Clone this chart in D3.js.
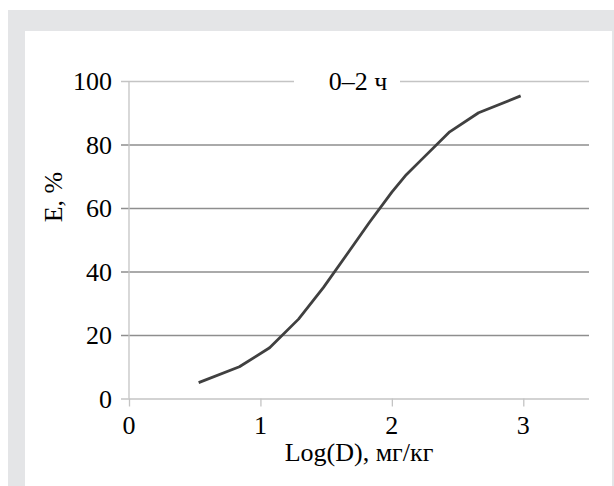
<!DOCTYPE html>
<html><head><meta charset="utf-8">
<script src="https://cdn.jsdelivr.net/npm/d3@7"></script>
<style>html,body{margin:0;padding:0;background:#fff;}svg{display:block;}</style>
</head><body>
<script>
const logDose = [0.53, 0.84, 1.07, 1.29, 1.48, 1.66, 1.83, 2.0, 2.11, 2.22, 2.44, 2.66, 2.98];
const effect  = [5, 10, 16, 25, 35, 45.5, 55.5, 65, 70.5, 75, 84, 90, 95.3];
const xTicks = [0, 1, 2, 3];
const yTicks = [0, 20, 40, 60, 80, 100];
const title = "0–2 ч";
const xTitle = "Log(D), мг/кг";
const yTitle = "E, %";

const W = 614, H = 486;
const svg = d3.select("body").append("svg").attr("width", W).attr("height", H);
svg.append("rect").attr("x", 8).attr("y", 10).attr("width", W - 8).attr("height", H - 10).attr("fill", "#e4e5e7");
svg.append("rect").attr("x", 25).attr("y", 31).attr("width", 587).attr("height", H - 31).attr("fill", "#fff");

const x = d3.scaleLinear().domain([0, 3.5]).range([129, 589]);
const y = d3.scaleLinear().domain([0, 100]).range([398.5, 81]);
const font = "'Liberation Serif','Times New Roman',serif";
const fs = 26;

// gridlines with left ticks
const yAxis = d3.axisLeft(y).tickValues(yTicks).tickSize(-(589 - 121)).tickFormat("");
const gy = svg.append("g").attr("transform", "translate(121,0)").call(yAxis);
gy.select(".domain").remove();
gy.selectAll(".tick line").attr("stroke", d => (d === 0 || d === 100) ? "#c4c4c4" : "#8e8e8e").attr("stroke-width", 1.3);

// y labels
svg.append("g").selectAll("text").data(yTicks).join("text")
  .attr("x", 112).attr("y", d => y(d) + 9).attr("text-anchor", "end")
  .attr("font-family", font).attr("font-size", fs).attr("fill", "#000").text(d => d);

// y axis line
svg.append("line").attr("x1", x(0)).attr("x2", x(0)).attr("y1", y(100)).attr("y2", y(0))
  .attr("stroke", "#c4c4c4").attr("stroke-width", 1.3);

// x ticks
const xAxis = d3.axisBottom(x).tickValues(xTicks).tickSize(8).tickFormat("");
const gx = svg.append("g").attr("transform", `translate(0,${y(0)})`).call(xAxis);
gx.select(".domain").remove();
gx.selectAll(".tick line").attr("stroke", "#c4c4c4").attr("stroke-width", 1.3);
svg.append("g").selectAll("text").data(xTicks).join("text")
  .attr("x", d => x(d)).attr("y", 434).attr("text-anchor", "middle")
  .attr("font-family", font).attr("font-size", fs).attr("fill", "#000").text(d => d);

// title with white background
svg.append("rect").attr("x", 294).attr("y", 70).attr("width", 106).attr("height", 24).attr("fill", "#fff");
svg.append("text").attr("x", 358).attr("y", 90).attr("text-anchor", "middle")
  .attr("font-family", font).attr("font-size", fs).attr("fill", "#000").text(title);

// axis titles
svg.append("text").attr("x", 359).attr("y", 461).attr("text-anchor", "middle")
  .attr("font-family", font).attr("font-size", fs).attr("fill", "#000").text(xTitle);
svg.append("text").attr("transform", "translate(62,197) rotate(-90)").attr("text-anchor", "middle")
  .attr("font-family", font).attr("font-size", fs).attr("fill", "#000").text(yTitle);

// line
const data = logDose.map((d, i) => ({x: d, y: effect[i]}));
svg.append("path").datum(data)
  .attr("d", d3.line().x(d => x(d.x)).y(d => y(d.y)))
  .attr("fill", "none").attr("stroke", "#404040").attr("stroke-width", 2.8).attr("stroke-linejoin", "round");
</script>
</body></html>
